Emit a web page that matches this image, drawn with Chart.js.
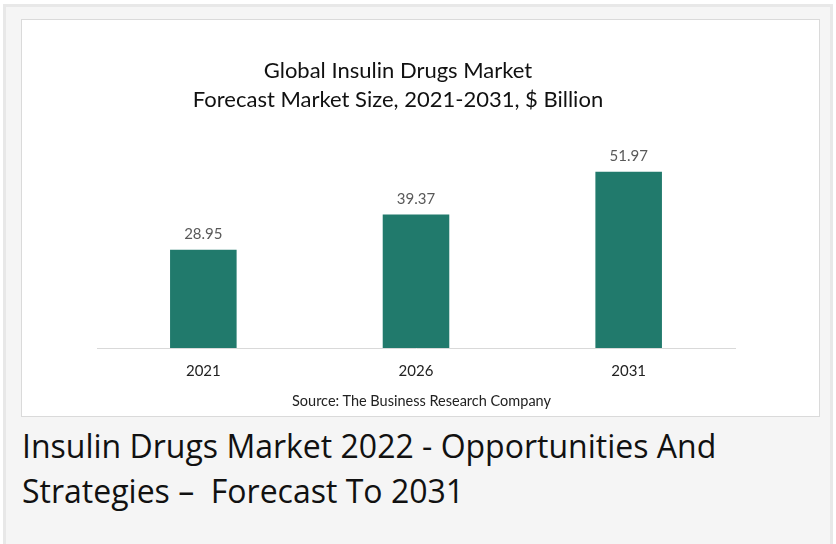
<!DOCTYPE html>
<html>
<head>
<meta charset="utf-8">
<script src="https://cdn.jsdelivr.net/npm/chart.js@4.4.1/dist/chart.umd.min.js"></script>
<style>
  html, body { margin: 0; padding: 0; background: #fff; }
  body { width: 836px; height: 544px; overflow: hidden; position: relative; }
  .card {
    position: absolute; left: 3px; top: 4px; width: 824px; height: 560px;
    background: #f5f5f5; border: 3px solid #e8e8e8;
  }
  .box {
    position: absolute; left: 21px; top: 19px; width: 799px; height: 398px;
    background: #fff; border: 1px solid #dadada; box-sizing: border-box;
  }
  .box canvas { position: absolute; left: 0; top: 0; }
  .title {
    position: absolute; left: 0; width: 752px; top: 35px; text-align: center;
    font-family: Lato, "Open Sans", sans-serif; font-size: 22px; line-height: 29px; color: #111;
  }
  .source {
    position: absolute; left: 0; width: 799px; top: 372px; text-align: center;
    font-family: Lato, "Open Sans", sans-serif; font-size: 14.5px; color: #222;
  }
  .caption {
    position: absolute; left: 22px; top: 423px; width: 810px;
    font-family: "Open Sans", sans-serif; font-size: 32px; line-height: 45px; color: #111;
  }
</style>
</head>
<body>
<div class="card"></div>
<div class="box">
  <canvas id="chart" width="799" height="398"></canvas>
  <div class="title">Global Insulin Drugs Market<br>Forecast Market Size, 2021-2031, $ Billion</div>
  <div class="source">Source: The Business Research Company</div>
</div>
<div class="caption">Insulin Drugs Market 2022 - Opportunities And<br>Strategies –&nbsp; Forecast To 2031</div>

<script>
const years = ['2021', '2026', '2031'];
const marketSize = [28.95, 39.37, 51.97];

// values written over each bar
const barLabels = {
  id: 'barLabels',
  afterDatasetsDraw(chart) {
    const ctx = chart.ctx;
    const meta = chart.getDatasetMeta(0);
    ctx.save();
    ctx.font = '15px Lato, "Open Sans", sans-serif';
    ctx.fillStyle = '#595959';
    ctx.textAlign = 'center';
    ctx.textBaseline = 'bottom';
    meta.data.forEach((bar, i) => {
      ctx.fillText(marketSize[i].toFixed(2), bar.x, bar.y - 8);
    });
    ctx.restore();
  }
};

new Chart(document.getElementById('chart').getContext('2d'), {
  type: 'bar',
  data: {
    labels: years,
    datasets: [{
      label: 'Market size',
      data: marketSize,
      backgroundColor: '#217a6c',
      borderWidth: 0,
      categoryPercentage: 1,
      barPercentage: 0.313
    }]
  },
  options: {
    responsive: false,
    animation: false,
    events: [],
    layout: { padding: { left: 75, right: 86, top: 111, bottom: 0 } },
    plugins: {
      legend: { display: false },
      tooltip: { enabled: false }
    },
    scales: {
      x: {
        grid: { display: false, drawTicks: false },
        border: { display: true, color: '#d9d9d9', width: 1 },
        ticks: {
          color: '#222',
          padding: 14,
          font: { family: 'Lato, "Open Sans", sans-serif', size: 15 }
        },
        afterFit: s => { s.height = 70; }
      },
      y: {
        display: false,
        min: 0,
        max: 64
      }
    }
  },
  plugins: [barLabels]
});
</script>
</body>
</html>
